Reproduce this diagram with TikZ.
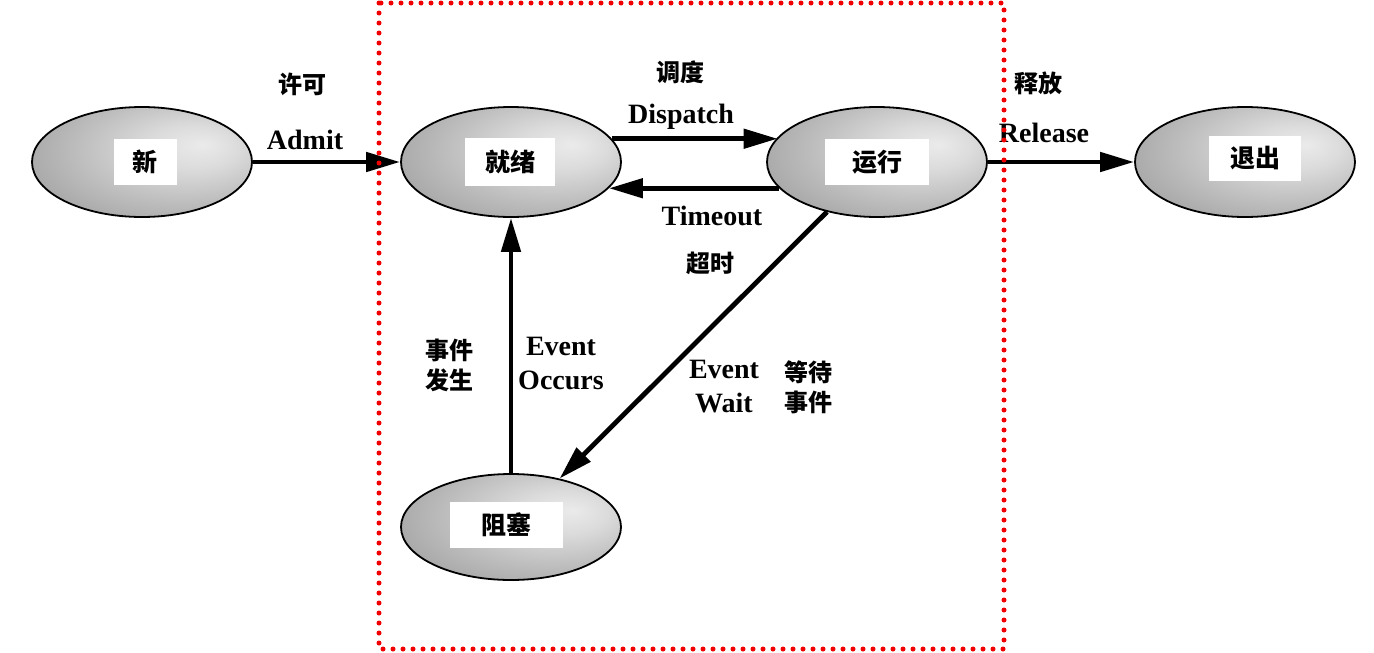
\documentclass[tikz,border=0pt]{standalone}
\usepackage{fontspec}
\setmainfont{Liberation Serif}
\newfontfamily\cjk{Noto Sans CJK SC}
\usetikzlibrary{arrows.meta,shapes.geometric}
\pgfdeclareradialshading{ellshade}{\pgfpoint{14bp}{8bp}}{color(0bp)=(black!8); color(10bp)=(black!14); color(24bp)=(black!26); color(36bp)=(black!36); color(50bp)=(black!45); color(66bp)=(black!54)}
\definecolor{dotred}{RGB}{240,0,0}
\begin{document}
\begin{tikzpicture}[x=1pt,y=-1pt,
  state/.style={ellipse, draw=black, line width=1.8pt, minimum width=220pt, minimum height=110pt, inner sep=0pt, shading=ellshade},
  lbl/.style={fill=white, inner sep=0pt, anchor=center, font=\cjk\bfseries\fontsize{25}{25}\selectfont},
  arr/.style={line width=4.8pt, -{Triangle[length=34pt,width=19pt]}},
  txt/.style={font=\bfseries\fontsize{28}{34}\selectfont, align=center, inner sep=0pt},
  ctxt/.style={font=\cjk\bfseries\fontsize{24}{30}\selectfont, align=center, inner sep=0pt}]
\useasboundingbox (0,0) rectangle (1374,653);
% states
\node[state] (new) at (142,162) {};
\node[state] (rdy) at (511,162) {};
\node[state] (run) at (877,162) {};
\node[state] (ext) at (1245,162) {};
\node[state, minimum height=106pt] (blk) at (511,527) {};
% white label boxes
\node[lbl, minimum width=63pt, minimum height=46pt] (newl) at (145,162) {新};
\node[lbl, minimum width=90pt, minimum height=48pt] (rdyl) at (510,162) {就绪};
\node[lbl, minimum width=104pt, minimum height=46pt] (runl) at (877,162) {运行};
\node[lbl, minimum width=92pt, minimum height=45pt] (extl) at (1255,158) {退出};
\node[lbl, minimum width=113pt, minimum height=46pt] (blkl) at (506,525) {阻塞};
% arrows
\draw[arr] (new) -- (rdy);
\draw[arr] (rdy.13.6) -- (run.166.4 |- rdy.13.6);
\draw[arr] (run.195) -- (rdy.-15 |- run.195);
\draw[arr] (run) -- (ext);
\draw[arr] (blk.north) -- (rdy.south);
\draw[arr] (run) -- (blk);
% labels
\node[ctxt] (t1) at (302,84) {许可};
\node[txt] (t2) at (305,140) {Admit};
\node[ctxt] (t3) at (680,72) {调度};
\node[txt] (t4) at (681,117) {Dispatch};
\node[txt] (t5) at (712,216) {Timeout};
\node[ctxt] (t6) at (710,263) {超时};
\node[ctxt] (t7) at (1038,83) {释放};
\node[txt] (t8) at (1044,133) {Release};
\node[ctxt] (t9) at (449,365) {事件\\发生};
\node[txt] (t10) at (561,363) {Event\\Occurs};
\node[txt] (t11) at (724,387) {Event\\Wait};
\node[ctxt] (t12) at (808,387) {等待\\事件};
% dotted boundary
\draw[dotred, line width=5pt, line cap=round, dash pattern=on 0pt off 10pt] (379,3) rectangle (1004,649);
\end{tikzpicture}
\end{document}
